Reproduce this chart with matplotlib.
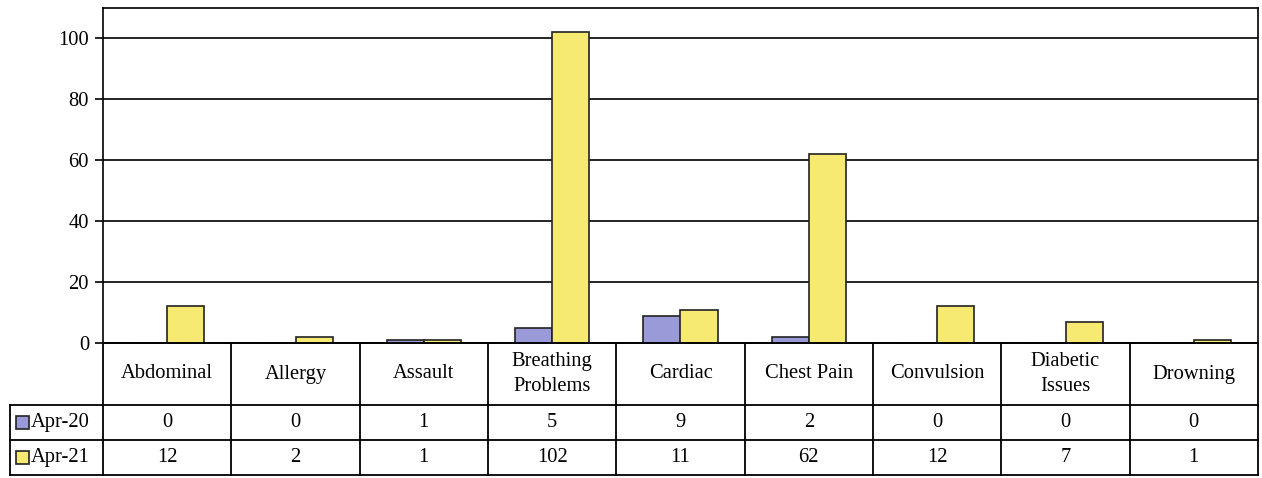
import numpy as np
import matplotlib
matplotlib.use('Agg')
import matplotlib.pyplot as plt
from matplotlib.patches import Rectangle

categories = ['Abdominal', 'Allergy', 'Assault', 'Breathing\nProblems', 'Cardiac',
              'Chest Pain', 'Convulsion', 'Diabetic\nIssues', 'Drowning']
apr20 = [0, 0, 1, 5, 9, 2, 0, 0, 0]
apr21 = [12, 2, 1, 102, 11, 62, 12, 7, 1]
series_names = ['Apr-20', 'Apr-21']
yticks = [0, 20, 40, 60, 80, 100]

c20 = '#9a9ad8'
c21 = '#f6ea72'
fs = 14.8

plt.rcParams['font.family'] = ['Liberation Serif', 'DejaVu Serif']

W, H = 1262, 478
fig = plt.figure(figsize=(W / 100, H / 100), dpi=100)

# plot area in pixel coords
left, right, top, zero_y = 103, 1258, 8, 343
ax = fig.add_axes([left / W, 1 - zero_y / H, (right - left) / W, (zero_y - top) / H])

n = len(categories)
x = np.arange(n)
w = 0.29
ax.bar(x - w / 2, apr20, w, color=c20, edgecolor='#222222', lw=1.2, zorder=3)
ax.bar(x + w / 2, apr21, w, color=c21, edgecolor='#222222', lw=1.2, zorder=3)

ax.set_xlim(-0.5, n - 0.5)
ax.set_ylim(0, 110)
ax.set_yticks(yticks)
ax.set_yticklabels([str(t) for t in yticks], fontsize=fs)
ax.set_xticks([])
ax.yaxis.grid(True, color='black', lw=1.2)
ax.set_axisbelow(True)
ax.tick_params(axis='y', length=6, width=1.2, pad=4)
for s in ax.spines.values():
    s.set_linewidth(1.2)

# data table drawn underneath
tax = fig.add_axes([0, 0, 1, 1])
tax.set_xlim(0, W)
tax.set_ylim(H, 0)
tax.axis('off')

lab_x0 = 10
row_y = [343, 405, 440, 475]
col_w = (right - left) / n
lw = 1.3

# horizontal lines
tax.plot([left, right], [row_y[0], row_y[0]], color='black', lw=lw)
for yy in row_y[1:]:
    tax.plot([lab_x0, right], [yy, yy], color='black', lw=lw)
# vertical lines
for i in range(n + 1):
    xx = left + i * col_w
    tax.plot([xx, xx], [row_y[0], row_y[-1]], color='black', lw=lw)
tax.plot([lab_x0, lab_x0], [row_y[1], row_y[-1]], color='black', lw=lw)

for i, cat in enumerate(categories):
    cx = left + (i + 0.5) * col_w
    tax.text(cx, (row_y[0] + row_y[1]) / 2, cat, ha='center', va='center',
             fontsize=fs, linespacing=1.45)
    tax.text(cx, (row_y[1] + row_y[2]) / 2, str(apr20[i]), ha='center', va='center', fontsize=fs)
    tax.text(cx, (row_y[2] + row_y[3]) / 2, str(apr21[i]), ha='center', va='center', fontsize=fs)

for r, (name, col) in enumerate(zip(series_names, [c20, c21])):
    cy = (row_y[r + 1] + row_y[r + 2]) / 2
    tax.add_patch(Rectangle((16, cy - 6.5), 13, 13, facecolor=col, edgecolor='#222222', lw=1.2))
    tax.text(31, cy, name, ha='left', va='center', fontsize=fs)

fig.savefig('out.png', dpi=100)
